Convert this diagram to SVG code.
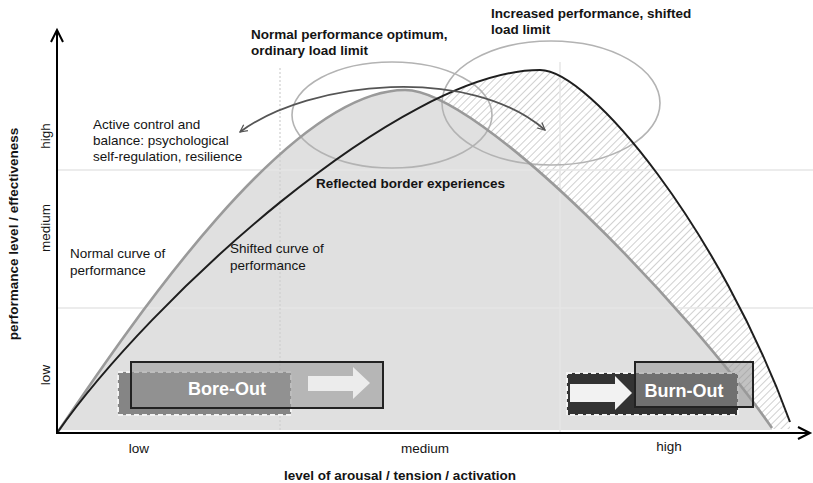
<svg xmlns="http://www.w3.org/2000/svg" width="813" height="483" viewBox="0 0 813 483">
<style>
text{font-family:"Liberation Sans",Arial,sans-serif;fill:#141414}
.r{font-size:13.5px}
.b{font-size:13.5px;font-weight:bold}
.box{font-size:18px;font-weight:bold;fill:#fff}
.grid{stroke:#e6e6e6;stroke-width:1.5;fill:none}
.ell{fill:none;stroke:#b3b3b3;stroke-width:1.6}
.dash{stroke:#f2f2f2;stroke-width:2;stroke-dasharray:5 3}
.frame{fill:#999;fill-opacity:0.6;stroke:#222;stroke-width:2}
.axis{stroke:#000;stroke-width:2;fill:none}
</style>
<defs>
<pattern id="hatch" width="5" height="5" patternUnits="userSpaceOnUse" patternTransform="rotate(45)">
<rect width="5" height="5" fill="#fff"/>
<line x1="0" y1="0" x2="0" y2="5" stroke="#c4c4c4" stroke-width="1.6"/>
</pattern>
<marker id="ah" viewBox="0 0 10 10" refX="9" refY="5" markerWidth="9" markerHeight="9" markerUnits="userSpaceOnUse" orient="auto-start-reverse">
<path d="M1,1 L9,5 L1,9" fill="none" stroke="#555" stroke-width="1.4"/>
</marker>
</defs>
<rect width="813" height="483" fill="#fff"/>

<g id="areas">
<path d="M57,433 C150,300 400,70 540,70 C590,70 720,230 790,422 L790,429 L57,429 Z" fill="url(#hatch)"/>
<path d="M57,433 C135,318 290,90 405,90 C480,90 690,310 772,428 L772,430 L57,430 Z" fill="#e0e0e0"/>
</g>

<g id="grid">
<line class="grid" x1="57" y1="170" x2="813" y2="170"/>
<line class="grid" x1="57" y1="308" x2="813" y2="308"/>
<line x1="280" y1="68" x2="280" y2="433" stroke="#cfcfcf" stroke-width="1.2" stroke-dasharray="2 2"/>
<line class="grid" x1="560" y1="62" x2="560" y2="433"/>
</g>

<g id="ellipses">
<ellipse id="normal-optimum" class="ell" cx="392" cy="115" rx="100" ry="53"/>
<ellipse id="shifted-optimum" class="ell" cx="551" cy="103" rx="109" ry="62"/>
</g>

<g id="curves">
<path id="normal-curve" d="M57,433 C135,318 290,90 405,90 C480,90 690,310 772,428" fill="none" stroke="#9a9a9a" stroke-width="2.6"/>
<path id="shifted-curve" d="M57,433 C150,300 400,70 540,70 C590,70 720,230 790,422" fill="none" stroke="#1e1e1e" stroke-width="2"/>
</g>

<g id="connectors">
<path d="M240,132 C310,80 470,65 545,130" fill="none" stroke="#555" stroke-width="1.8" marker-start="url(#ah)" marker-end="url(#ah)"/>
</g>

<g id="bore-out">
<rect class="dash" x="118" y="372" width="173" height="43" fill="#858585"/>
<rect class="frame" x="131" y="362" width="252" height="46"/>
<text class="box" x="227" y="395" text-anchor="middle">Bore-Out</text>
<path d="M308,376 L353,376 L353,367 L370,383 L353,399 L353,391 L308,391 Z" fill="#ececec"/>
</g>

<g id="burn-out">
<rect class="dash" x="567" y="373" width="171" height="42" fill="#333"/>
<rect class="frame" x="635" y="362" width="118" height="45"/>
<text class="box" x="684" y="397" text-anchor="middle">Burn-Out</text>
<path d="M570,384 L615,384 L615,376 L632,393 L615,410 L615,402 L570,402 Z" fill="#f2f2f2"/>
</g>

<g id="axes">
<line class="axis" x1="57" y1="434" x2="57" y2="30"/>
<path class="axis" d="M51,42 L57,30 L63,42"/>
<line class="axis" x1="56" y1="433" x2="809" y2="433"/>
<path class="axis" d="M798,427 L810,433 L798,439"/>
</g>

<g id="labels">
<text class="b" x="251" y="39">Normal performance optimum,</text>
<text class="b" x="251" y="55">ordinary load limit</text>
<text class="b" x="491" y="18">Increased performance, shifted</text>
<text class="b" x="491" y="34">load limit</text>
<text class="r" x="93" y="129">Active control and</text>
<text class="r" x="93" y="145">balance: psychological</text>
<text class="r" x="93" y="161">self-regulation, resilience</text>
<text class="b" x="316" y="188">Reflected border experiences</text>
<text class="r" x="70" y="258">Normal curve of</text>
<text class="r" x="70" y="275">performance</text>
<text class="r" x="230" y="253">Shifted curve of</text>
<text class="r" x="230" y="270">performance</text>
<text class="r" x="139" y="453" text-anchor="middle">low</text>
<text class="r" x="425" y="453" text-anchor="middle">medium</text>
<text class="r" x="669" y="451" text-anchor="middle">high</text>
<text class="b" x="400" y="480" text-anchor="middle">level of arousal / tension / activation</text>
<text class="r" text-anchor="middle" transform="translate(50,136) rotate(-90)">high</text>
<text class="r" text-anchor="middle" transform="translate(50,228) rotate(-90)">medium</text>
<text class="r" text-anchor="middle" transform="translate(50,375) rotate(-90)">low</text>
<text class="b" text-anchor="middle" transform="translate(18,234) rotate(-90)">performance level / effectiveness</text>
</g>
</svg>
